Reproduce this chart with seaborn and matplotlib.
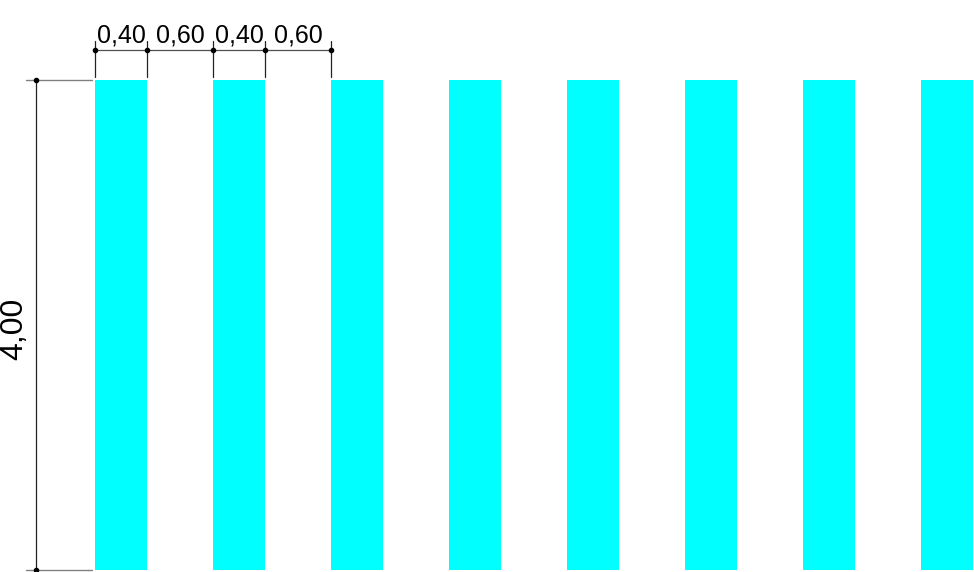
import matplotlib
matplotlib.use("Agg")
import matplotlib.pyplot as plt
import seaborn as sns
import numpy as np

# dimension values shown on the drawing
segment_widths = [0.40, 0.60, 0.40, 0.60]
segment_labels = ["0,40", "0,60", "0,40", "0,60"]
bar_height = 4.00
height_label = "4,00"
bar_count = 8

sns.set_style("white")
plt.rcParams["font.family"] = ["Liberation Sans", "DejaVu Sans"]
plt.rcParams["text.color"] = "black"

pitch = segment_widths[0] + segment_widths[1]
bar_draw_width = 0.44  # drawing is not to scale, bars look a bit wider
bar_lefts = np.arange(bar_count) * pitch
bar_centers = bar_lefts + bar_draw_width / 2
heights = [bar_height] * bar_count

fig = plt.figure(figsize=(9.74, 5.72), dpi=100)
ax = fig.add_axes([0, 0, 1, 1])

sns.barplot(x=bar_centers, y=heights, native_scale=True, width=bar_draw_width,
            color="#00FFFF", saturation=1, linewidth=0, ax=ax)

# pixel mapping: 118 px per unit in x, 122.5 px per unit in y
ax.set_xlim(-95 / 118, (974 - 95) / 118)
ax.set_ylim(-2 / 122.5, 570 / 122.5)
ax.axis("off")

# top chain dimension
ticks = [0.0, bar_draw_width, pitch, pitch + bar_draw_width, 2 * pitch]
dim_y = 4.245
ax.plot([ticks[0], ticks[-1]], [dim_y, dim_y], color="#505050", lw=0.9)
for t in ticks:
    ax.plot([t, t], [4.024, 4.318], color="#222222", lw=0.9)
    ax.plot(t, dim_y, "o", color="black", ms=3)
for a, b, lab in zip(ticks[:-1], ticks[1:], segment_labels):
    ax.text((a + b) / 2, 4.31, lab, ha="center", va="baseline", fontsize=18,
            color="black")

# left height dimension
vx = -0.504
ax.plot([vx, vx], [0, bar_height], color="#222222", lw=0.9)
for yy in [0, bar_height]:
    ax.plot([-0.585, -0.025], [yy, yy], color="#808080", lw=1.0)
    ax.plot(vx, yy, "o", color="black", ms=3)
ax.text(-0.686, bar_height / 2 - 0.033, height_label, rotation=90,
        ha="center", va="center", fontsize=23, color="black")

fig.savefig("out.png", dpi=100)
